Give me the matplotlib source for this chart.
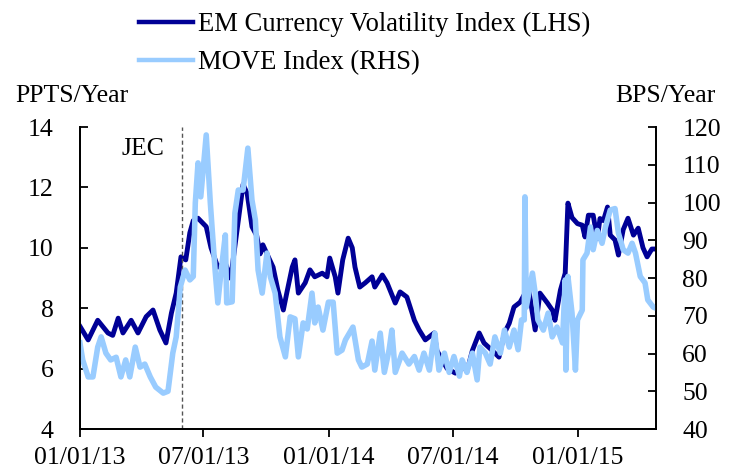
import matplotlib
matplotlib.use('Agg')
import matplotlib.pyplot as plt
import matplotlib.dates as mdates
import pandas as pd

plt.rcParams['font.family'] = ['Liberation Serif', 'DejaVu Serif']

# EM Currency Volatility Index (LHS), PPTS/Year
em_dates = ['2013-01-01', '2013-01-13', '2013-01-27', '2013-02-11', '2013-02-18', '2013-02-26',
            '2013-03-05', '2013-03-17', '2013-03-27', '2013-04-08', '2013-04-18', '2013-04-28',
            '2013-05-07', '2013-05-15', '2013-05-22', '2013-05-29', '2013-06-05', '2013-06-11',
            '2013-06-16', '2013-06-23', '2013-07-05', '2013-07-12', '2013-07-22', '2013-08-02',
            '2013-08-09', '2013-08-12', '2013-08-21', '2013-08-28', '2013-09-03', '2013-09-10',
            '2013-09-17', '2013-09-22', '2013-09-26', '2013-10-04', '2013-10-11', '2013-10-18',
            '2013-10-26', '2013-10-31', '2013-11-08', '2013-11-12', '2013-11-17', '2013-11-27',
            '2013-12-04', '2013-12-11', '2013-12-22', '2013-12-29', '2014-01-02', '2014-01-10',
            '2014-01-14', '2014-01-21', '2014-01-29', '2014-02-04', '2014-02-08', '2014-02-15',
            '2014-02-23', '2014-03-05', '2014-03-09', '2014-03-20', '2014-03-27', '2014-04-08',
            '2014-04-15', '2014-04-25', '2014-05-06', '2014-05-13', '2014-05-22', '2014-06-04',
            '2014-06-08', '2014-06-16', '2014-06-23', '2014-07-05', '2014-07-18', '2014-07-22',
            '2014-07-30', '2014-08-09', '2014-08-16', '2014-08-28', '2014-09-07', '2014-09-15',
            '2014-09-22', '2014-09-29', '2014-10-08', '2014-10-20', '2014-10-26', '2014-10-30',
            '2014-11-06', '2014-11-17', '2014-11-24', '2014-11-28', '2014-12-06', '2014-12-13',
            '2014-12-17', '2014-12-23', '2014-12-31', '2015-01-07', '2015-01-11', '2015-01-16',
            '2015-01-23', '2015-01-29', '2015-02-02', '2015-02-07', '2015-02-13', '2015-02-17',
            '2015-02-24', '2015-03-01', '2015-03-08', '2015-03-15', '2015-03-23', '2015-03-30',
            '2015-04-06', '2015-04-12', '2015-04-19', '2015-04-25']
em_values = [7.4, 6.95, 7.6, 7.18, 7.1, 7.67,
             7.18, 7.6, 7.18, 7.72, 7.94, 7.28,
             6.85, 7.84, 8.5, 9.7, 9.6, 10.5,
             10.9, 10.98, 10.7, 10.0, 9.36, 9.5,
             9.0, 9.36, 10.9, 12.1, 11.8, 10.7,
             10.4, 9.8, 10.1, 9.7, 9.36, 8.6,
             7.94, 8.5, 9.36, 9.6, 8.5, 8.84,
             9.27, 9.04, 9.16, 9.04, 9.66, 9.04,
             8.5, 9.6, 10.32, 10.0, 9.36, 8.7,
             8.84, 9.04, 8.7, 9.1, 8.84, 8.17,
             8.54, 8.37, 7.6, 7.28, 6.95, 7.18,
             6.6, 6.28, 6.0, 5.85, 6.05, 5.9,
             6.6, 7.18, 6.85, 6.6, 6.38, 7.18,
             7.5, 8.04, 8.2, 8.7, 7.84, 7.28,
             8.5, 8.17, 7.94, 7.6, 8.6, 9.16,
             11.48, 11.0, 10.8, 10.75, 10.36, 11.08,
             11.08, 10.3, 10.97, 10.9, 11.35, 10.42,
             10.26, 9.76, 10.6, 10.98, 10.42, 10.65,
             10.0, 9.7, 9.96, 9.96]

# MOVE Index (RHS), BPS/Year
move_dates = ['2013-01-01', '2013-01-05', '2013-01-13', '2013-01-20', '2013-01-27', '2013-02-01',
              '2013-02-08', '2013-02-15', '2013-02-23', '2013-03-02', '2013-03-09', '2013-03-15',
              '2013-03-23', '2013-03-30', '2013-04-06', '2013-04-14', '2013-04-22', '2013-05-03',
              '2013-05-10', '2013-05-17', '2013-05-22', '2013-05-28', '2013-06-04', '2013-06-11',
              '2013-06-16', '2013-06-19', '2013-06-23', '2013-06-27', '2013-07-05', '2013-07-11',
              '2013-07-18', '2013-07-22', '2013-07-27', '2013-08-02', '2013-08-04', '2013-08-12',
              '2013-08-16', '2013-08-21', '2013-08-28', '2013-09-04', '2013-09-10', '2013-09-15',
              '2013-09-19', '2013-09-25', '2013-10-02', '2013-10-07', '2013-10-14', '2013-10-21',
              '2013-10-29', '2013-11-05', '2013-11-12', '2013-11-17', '2013-11-24', '2013-11-30',
              '2013-12-07', '2013-12-11', '2013-12-16', '2013-12-23', '2013-12-31', '2014-01-07',
              '2014-01-13', '2014-01-20', '2014-01-25', '2014-02-05', '2014-02-13', '2014-02-18',
              '2014-02-26', '2014-03-05', '2014-03-09', '2014-03-17', '2014-03-23', '2014-03-30',
              '2014-04-03', '2014-04-08', '2014-04-18', '2014-04-28', '2014-05-06', '2014-05-13',
              '2014-05-20', '2014-05-28', '2014-06-01', '2014-06-05', '2014-06-11', '2014-06-19',
              '2014-06-26', '2014-07-03', '2014-07-11', '2014-07-15', '2014-07-22', '2014-07-30',
              '2014-08-06', '2014-08-10', '2014-08-18', '2014-08-25', '2014-09-01', '2014-09-09',
              '2014-09-15', '2014-09-22', '2014-09-29', '2014-10-05', '2014-10-10', '2014-10-14',
              '2014-10-15', '2014-10-17', '2014-10-26', '2014-10-30', '2014-11-03', '2014-11-11',
              '2014-11-18', '2014-11-24', '2014-12-01', '2014-12-09', '2014-12-13', '2014-12-14',
              '2014-12-17', '2014-12-23', '2014-12-28', '2014-12-31', '2015-01-07', '2015-01-08',
              '2015-01-14', '2015-01-19', '2015-01-23', '2015-01-29', '2015-02-05', '2015-02-10',
              '2015-02-17', '2015-02-24', '2015-03-01', '2015-03-08', '2015-03-15', '2015-03-21',
              '2015-03-26', '2015-04-02', '2015-04-09', '2015-04-13', '2015-04-21', '2015-04-25']
move_values = [62.8, 58.3, 53.8, 53.8, 61.7, 64.4,
               60.1, 58.3, 59.0, 53.8, 58.3, 53.8,
               61.7, 56.4, 57.2, 53.8, 51.1, 49.5,
               50.0, 60.1, 64.4, 77.6, 82.1, 79.5,
               80.4, 99.9, 110.5, 101.5, 117.9, 99.9,
               82.1, 73.4, 82.1, 91.4, 73.4, 73.7,
               97.2, 103.3, 103.3, 114.4, 100.7, 95.4,
               82.1, 76.0, 86.6, 80.3, 76.0, 64.4,
               59.1, 69.7, 69.2, 59.1, 68.1, 66.5,
               76.0, 68.1, 72.3, 66.2, 73.6, 73.6,
               60.1, 60.9, 63.6, 67.0, 58.3, 56.4,
               57.2, 63.3, 55.6, 65.4, 55.0, 61.0,
               66.2, 55.0, 60.1, 57.2, 59.2, 55.6,
               60.1, 55.6, 61.0, 65.4, 55.6, 60.1,
               55.0, 59.2, 54.0, 58.3, 55.0, 60.1,
               53.0, 61.7, 60.1, 57.2, 64.4, 60.1,
               66.2, 61.7, 66.2, 61.0, 68.9, 68.9,
               101.5, 72.3, 81.3, 76.0, 68.9, 66.2,
               70.7, 64.4, 67.0, 62.8, 79.5, 55.6,
               80.4, 70.7, 55.6, 68.9, 71.5, 84.8,
               86.6, 93.5, 87.5, 92.6, 89.2, 93.5,
               98.0, 98.4, 91.9, 87.5, 86.6, 89.2,
               86.6, 80.4, 78.7, 74.2, 72.3, 72.0]

jec_date = '2013-05-31'
left_ticks = [4, 6, 8, 10, 12, 14]
right_ticks = [40, 50, 60, 70, 80, 90, 100, 110, 120]
x_ticks = ['2013-01-01', '2013-07-01', '2014-01-01', '2014-07-01', '2015-01-01']

dark_blue = '#000096'
light_blue = '#99CCFF'
fs = 18.5

fig = plt.figure(figsize=(7.33, 4.72), dpi=100)
ax = fig.add_axes([0.1091, 0.0911, 0.7858, 0.6398])
ax2 = ax.twinx()

l1, = ax.plot(pd.to_datetime(em_dates), em_values, color=dark_blue, lw=3.5,
              solid_joinstyle='round', label='EM Currency Volatility Index (LHS)')
l2, = ax2.plot(pd.to_datetime(move_dates), move_values, color=light_blue, lw=4.0,
               solid_joinstyle='round', label='MOVE Index (RHS)')

ax.axvline(pd.to_datetime(jec_date), color='#555555', lw=1.0, ls=(0, (3, 2)))
ax.text(0.072, 0.965, 'JEC', transform=ax.transAxes, fontsize=fs, va='top', ha='left')

ax.set_xlim(pd.to_datetime('2013-01-01'), pd.to_datetime('2015-04-25'))
ax.set_ylim(4, 14)
ax2.set_ylim(40, 120)
ax.set_yticks(left_ticks)
ax2.set_yticks(right_ticks)
ax.set_xticks(pd.to_datetime(x_ticks))
ax.xaxis.set_major_formatter(mdates.DateFormatter('%m/%d/%y'))

for a in (ax, ax2):
    a.spines['top'].set_visible(False)
    for s in a.spines.values():
        s.set_linewidth(1.3)
ax.tick_params(axis='y', direction='in', length=6, width=1.3, pad=19, labelsize=fs)
ax2.tick_params(axis='y', direction='in', length=6, width=1.3, pad=19, labelsize=fs)
ax.tick_params(axis='x', direction='out', length=6, width=1.3, pad=7, labelsize=fs)

fig.text(15 / 733, 1 - 96 / 472, 'PPTS/Year', fontsize=fs, va='center', ha='left')
fig.text(716 / 733, 1 - 96 / 472, 'BPS/Year', fontsize=fs, va='center', ha='right')

leg = fig.legend(handles=[l1, l2], loc='upper left', bbox_to_anchor=(0.175, 0.997),
                 frameon=False, fontsize=19.2, handlelength=2.02, handletextpad=0.2,
                 labelspacing=0.5, borderaxespad=0)
for h in leg.get_lines():
    h.set_linewidth(3.2)

fig.savefig('out.png', dpi=100)
